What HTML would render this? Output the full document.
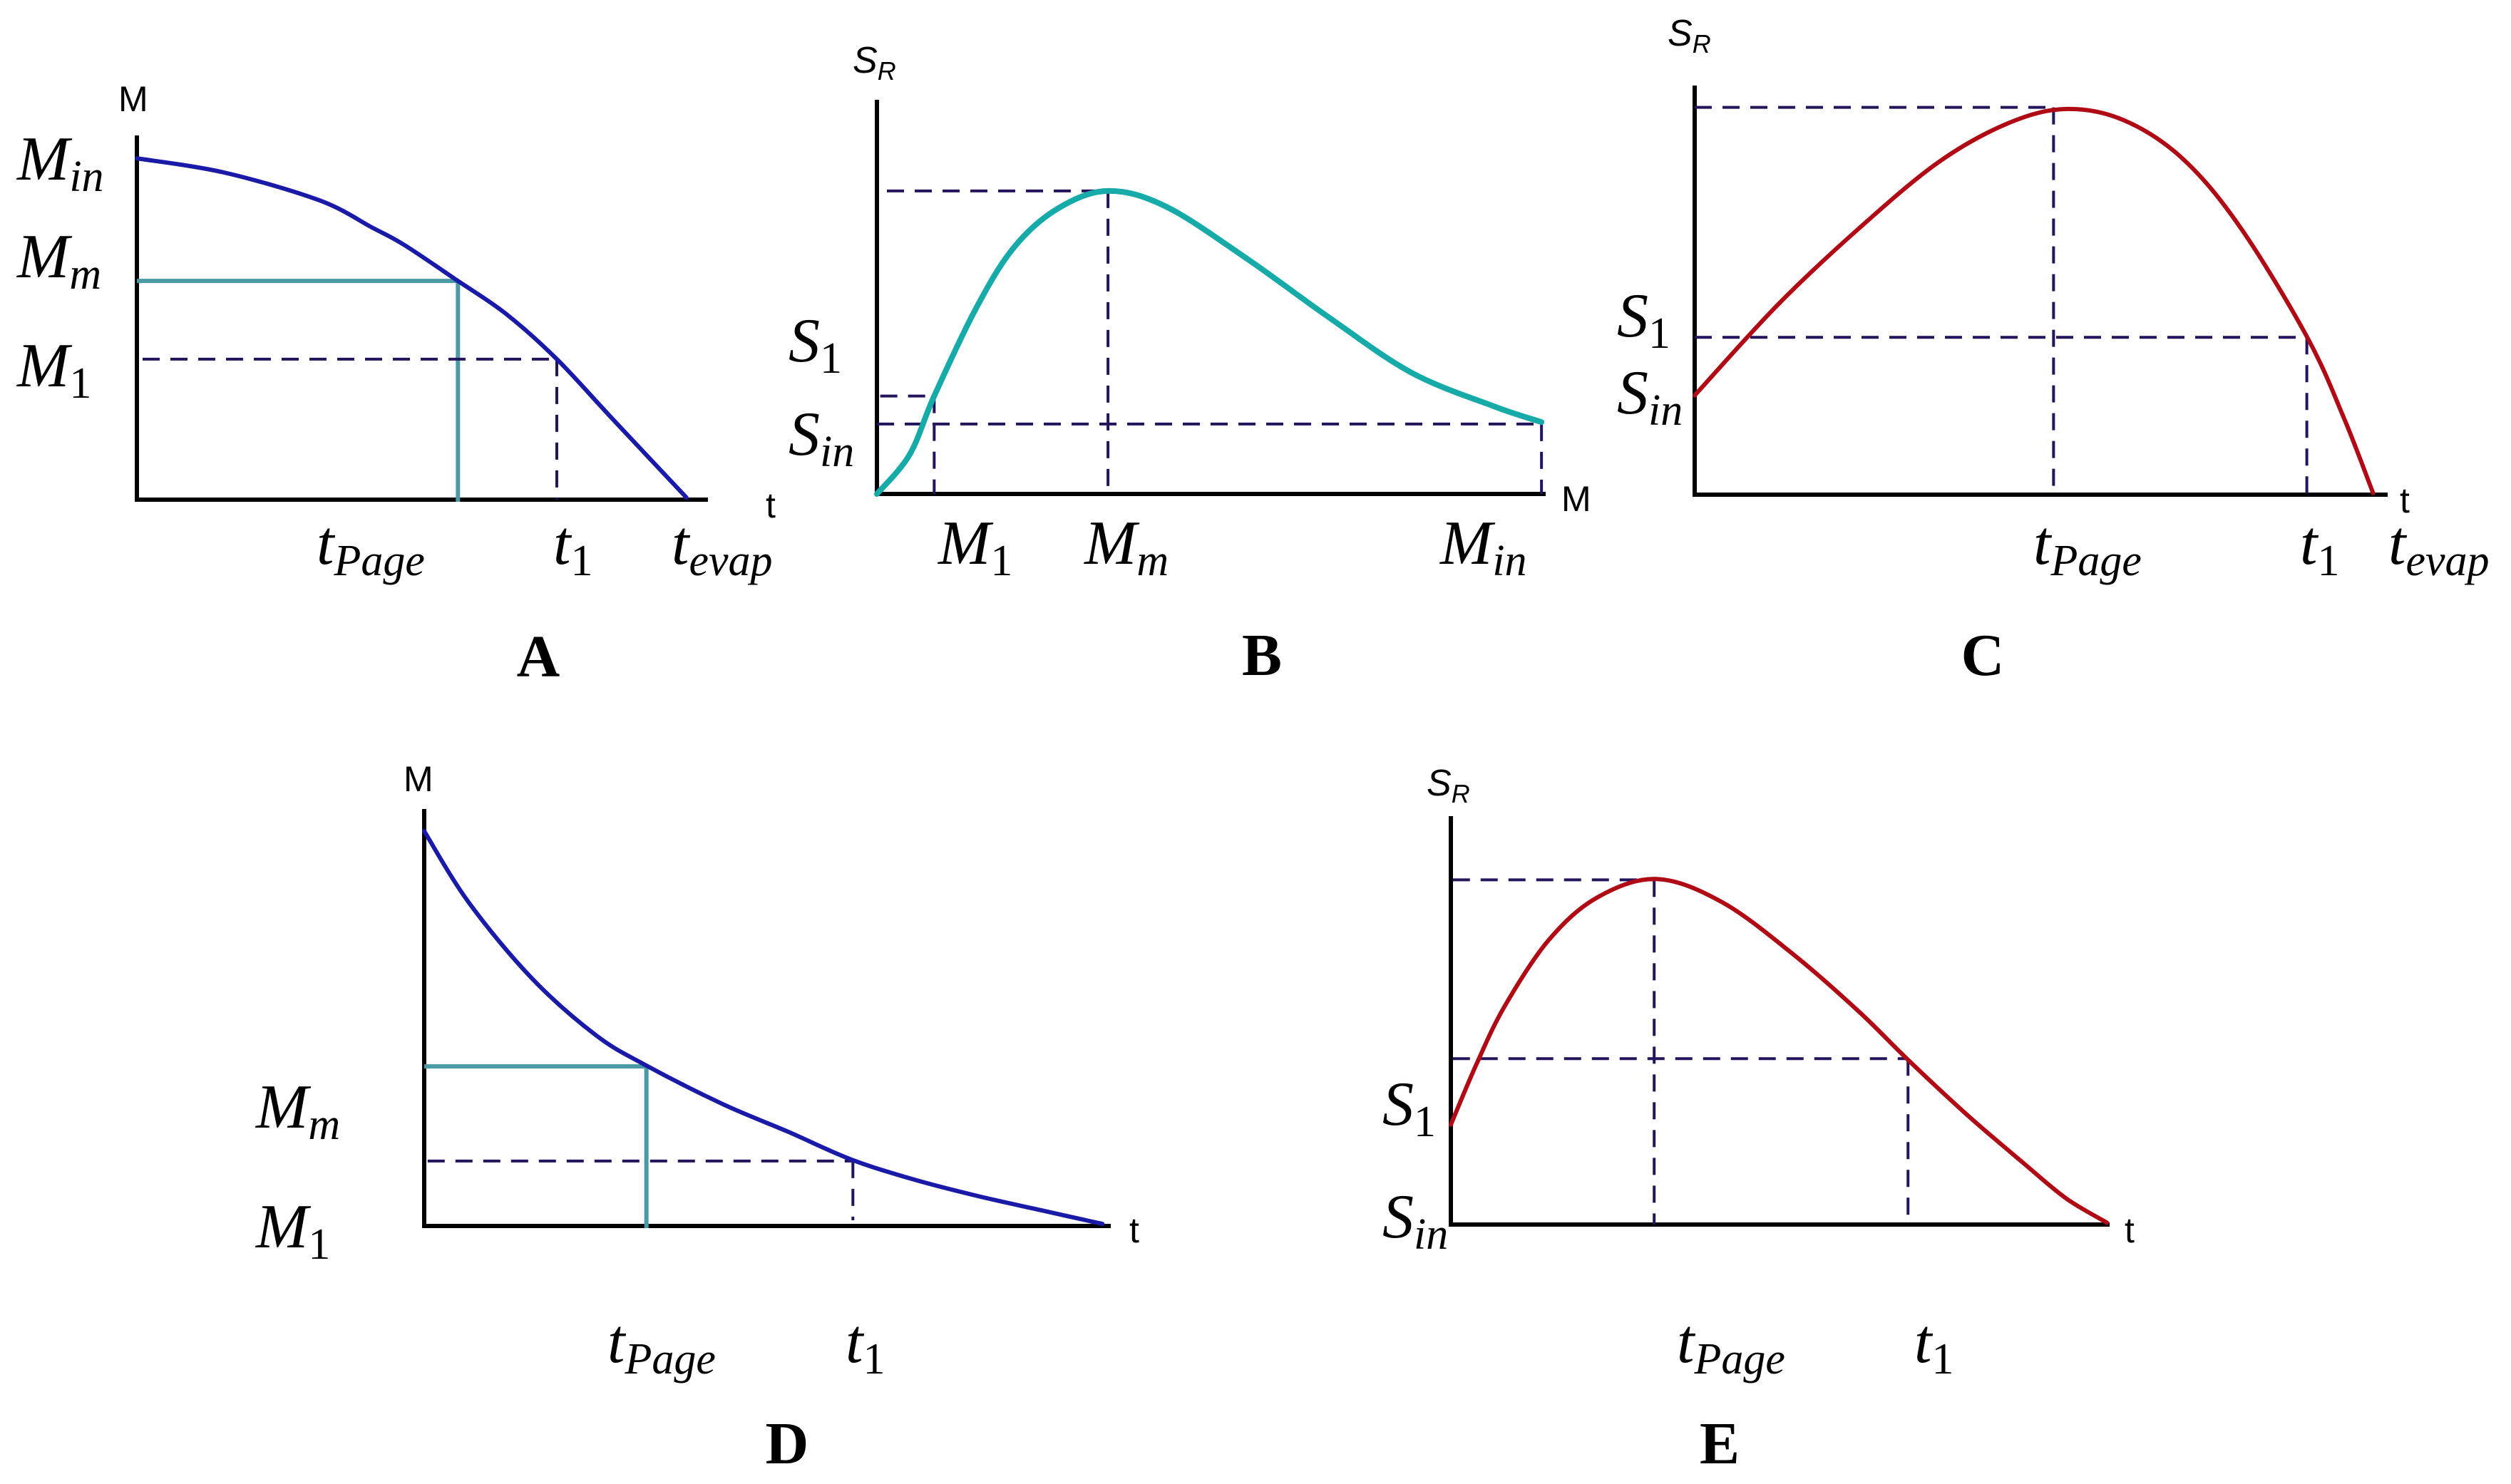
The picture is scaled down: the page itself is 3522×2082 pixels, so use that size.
<!DOCTYPE html>
<html><head><meta charset="utf-8"><style>
html,body{margin:0;padding:0;background:#fff;}
svg{display:block;}
.it{font-family:"Liberation Serif",serif;font-style:italic;}
.sans{font-family:"Liberation Sans",sans-serif;}
.bold{font-family:"Liberation Serif",serif;font-weight:bold;}
</style></head><body>
<svg id="fig" width="3522" height="2082" viewBox="0 0 3522 2082" xmlns="http://www.w3.org/2000/svg">
<rect width="3522" height="2082" fill="#fff"/>
<g id="marks"></g>
<g>
<text class="sans" x="166" y="156" font-size="50">M</text>
<text class="it" x="24" y="252" font-size="88">M<tspan font-size="62" dy="16">in</tspan></text>
<text class="it" x="24" y="389" font-size="88">M<tspan font-size="62" dy="16">m</tspan></text>
<text class="it" x="24" y="542" font-size="88">M<tspan font-size="62" dy="16" font-style="normal">1</tspan></text>
<text class="sans" x="1074" y="726" font-size="50">t</text>
<text class="it" x="444" y="791" font-size="88">t<tspan font-size="62" dy="16">Page</tspan></text>
<text class="it" x="776" y="791" font-size="88">t<tspan font-size="62" dy="16" font-style="normal">1</tspan></text>
<text class="it" x="942" y="791" font-size="88">t<tspan font-size="62" dy="16">evap</tspan></text>
<text class="bold" x="755" y="949" font-size="84" text-anchor="middle">A</text>
</g>
<g>
<text class="sans" x="1196" y="102" font-size="52" font-style="italic">S<tspan font-size="36" dy="10">R</tspan></text>
<text class="it" x="1106" y="507" font-size="88">S<tspan font-size="62" dy="16" font-style="normal">1</tspan></text>
<text class="it" x="1106" y="638" font-size="88">S<tspan font-size="62" dy="16">in</tspan></text>
<text class="sans" x="2190" y="717" font-size="50">M</text>
<text class="it" x="1316" y="791" font-size="88">M<tspan font-size="62" dy="16" font-style="normal">1</tspan></text>
<text class="it" x="1521" y="791" font-size="88">M<tspan font-size="62" dy="16">m</tspan></text>
<text class="it" x="2020" y="791" font-size="88">M<tspan font-size="62" dy="16">in</tspan></text>
<text class="bold" x="1770" y="947" font-size="84" text-anchor="middle">B</text>
</g>
<g>
<text class="sans" x="2339" y="64" font-size="52" font-style="italic">S<tspan font-size="36" dy="10">R</tspan></text>
<text class="it" x="2268" y="472" font-size="88">S<tspan font-size="62" dy="16" font-style="normal">1</tspan></text>
<text class="it" x="2268" y="580" font-size="88">S<tspan font-size="62" dy="16">in</tspan></text>
<text class="sans" x="3366" y="719" font-size="50">t</text>
<text class="it" x="2852" y="791" font-size="88">t<tspan font-size="62" dy="16">Page</tspan></text>
<text class="it" x="3226" y="791" font-size="88">t<tspan font-size="62" dy="16" font-style="normal">1</tspan></text>
<text class="it" x="3350" y="791" font-size="88">t<tspan font-size="62" dy="16">evap</tspan></text>
<text class="bold" x="2781" y="947" font-size="84" text-anchor="middle">C</text>
</g>
<g>
<text class="sans" x="566" y="1110" font-size="50">M</text>
<text class="it" x="359" y="1582" font-size="88">M<tspan font-size="62" dy="16">m</tspan></text>
<text class="it" x="359" y="1750" font-size="88">M<tspan font-size="62" dy="16" font-style="normal">1</tspan></text>
<text class="sans" x="1584" y="1743" font-size="50">t</text>
<text class="it" x="852" y="1911" font-size="88">t<tspan font-size="62" dy="16">Page</tspan></text>
<text class="it" x="1186" y="1911" font-size="88">t<tspan font-size="62" dy="16" font-style="normal">1</tspan></text>
<text class="bold" x="1104" y="2053" font-size="84" text-anchor="middle">D</text>
</g>
<g>
<text class="sans" x="2001" y="1116" font-size="52" font-style="italic">S<tspan font-size="36" dy="10">R</tspan></text>
<text class="it" x="1939" y="1578" font-size="88">S<tspan font-size="62" dy="16" font-style="normal">1</tspan></text>
<text class="it" x="1939" y="1736" font-size="88">S<tspan font-size="62" dy="16">in</tspan></text>
<text class="sans" x="2980" y="1743" font-size="50">t</text>
<text class="it" x="2352" y="1911" font-size="88">t<tspan font-size="62" dy="16">Page</tspan></text>
<text class="it" x="2685" y="1911" font-size="88">t<tspan font-size="62" dy="16" font-style="normal">1</tspan></text>
<text class="bold" x="2412" y="2053" font-size="84" text-anchor="middle">E</text>
</g>
</svg>
<script>
// ---- data (domain 0..10 on both axes) ----
const aT = [0, 1.52, 3.21, 4.14, 4.71, 5.65, 6.49, 7.39, 8.36, 9.67];
const aM = [9.52, 9.13, 8.35, 7.59, 7.10, 6.10, 5.19, 3.92, 2.27, 0.06];
const aRef = {tPage: 5.65, Mm: 6.1, t1: 7.39, M1: 3.92};

const bM = [0, 0.49, 0.86, 1.48, 2.05, 2.71, 3.47, 4.35, 5.57, 6.80, 8.03, 9.26, 9.98];
const bS = [0, 1.01, 2.52, 4.75, 6.33, 7.34, 7.80, 7.39, 6.04, 4.53, 3.12, 2.26, 1.85];
const bRef = {Mm: 3.47, Smax: 7.8, M1: 0.86, S1: 2.52, Min: 9.98, Sin: 1.8};

const cT = [0, 1.20, 2.38, 3.54, 4.56, 5.39, 6.22, 7.07, 7.90, 8.87, 9.41, 9.83];
const cS = [2.46, 4.70, 6.60, 8.25, 9.22, 9.56, 9.28, 8.33, 6.64, 3.92, 1.89, 0.04];
const cRef = {tPage: 5.2, Smax: 9.6, t1: 8.87, S1: 3.9};

const dT = [0, 0.65, 1.57, 2.51, 3.25, 4.37, 5.31, 6.24, 7.16, 8.09, 9.03, 9.92];
const dM = [9.60, 7.87, 6.03, 4.64, 3.90, 2.96, 2.30, 1.62, 1.13, 0.73, 0.38, 0.05];
const dRef = {tPage: 3.25, Mm: 3.88, t1: 6.27, M1: 1.58};

const eT = [0, 0.39, 0.82, 1.49, 2.23, 3.14, 4.14, 5.22, 6.22, 6.97, 7.88, 8.72, 9.38, 10];
const eS = [2.48, 3.98, 5.42, 7.06, 8.12, 8.58, 8.00, 6.71, 5.29, 4.09, 2.71, 1.54, 0.65, 0.05];
const eRef = {tPage: 3.1, Smax: 8.56, t1: 6.97, S1: 4.12};

const NS = 'http://www.w3.org/2000/svg';
const root = document.getElementById('marks');
function mk(tag, attrs, parent){
  const e = document.createElementNS(NS, tag);
  for (const k in attrs) e.setAttribute(k, attrs[k]);
  (parent || root).appendChild(e);
  return e;
}
function axes(x0, x1, y0, y1){
  return {x: v => x0 + (x1 - x0) * v / 10, y: v => y0 - (y0 - y1) * v / 10, x0, x1, y0, y1};
}
function smooth(px, py){
  let d = 'M' + px[0] + ',' + py[0];
  for (let i = 0; i < px.length - 1; i++){
    const i0 = Math.max(0, i - 1), i3 = Math.min(px.length - 1, i + 2);
    const c1x = px[i] + (px[i+1] - px[i0]) / 6, c1y = py[i] + (py[i+1] - py[i0]) / 6;
    const c2x = px[i+1] - (px[i3] - px[i]) / 6, c2y = py[i+1] - (py[i3] - py[i]) / 6;
    d += ' C' + c1x + ',' + c1y + ' ' + c2x + ',' + c2y + ' ' + px[i+1] + ',' + py[i+1];
  }
  return d;
}
const DASH = '#24145c';
function drawAxes(ax, name){
  const g = mk('g', {});
  
  
  const ya = mk('line', {x1: ax.x0, y1: ax.y0, x2: ax.x0, y2: ax.y1 - 8, stroke: '#000', 'stroke-width': 6}, g);
  
  
  const xa = mk('line', {x1: ax.x0 - 3, y1: ax.y0, x2: ax.x1 + 4, y2: ax.y0, stroke: '#000', 'stroke-width': 6}, g);
  
  
}
function curve(ax, xs, ys, color, w, name){
  const p = mk('path', {d: smooth(xs.map(ax.x), ys.map(ax.y)), fill: 'none', stroke: color, 'stroke-width': w, 'stroke-linecap': 'round'});
  
  
}
function seg(x1, y1, x2, y2, color, w, dashed, name){
  const a = {x1, y1, x2, y2, stroke: color, 'stroke-width': w};
  if (dashed) a['stroke-dasharray'] = '24 15';
  const l = mk('line', a);
  
  
}
const TEAL = '#4a9aa6';

const A = axes(192, 989, 701, 198);
drawAxes(A, 'a');
seg(A.x(0), A.y(aRef.Mm), A.x(aRef.tPage), A.y(aRef.Mm), TEAL, 6, false, 'a-mm-guide-h');
seg(A.x(aRef.tPage), A.y(aRef.Mm), A.x(aRef.tPage), A.y0 + 3, TEAL, 6, false, 'a-tpage-guide-v');
seg(A.x(0.1), A.y(aRef.M1), A.x(aRef.t1), A.y(aRef.M1), DASH, 4, true, 'a-m1-guide-h');
seg(A.x(aRef.t1), A.y(aRef.M1), A.x(aRef.t1), A.y0, DASH, 4, true, 'a-t1-guide-v');
curve(A, aT, aM, '#1a1aa8', 6, 'a-mass-curve');

const B = axes(1230, 2164, 693, 148);
drawAxes(B, 'b');
seg(B.x(0.15), B.y(bRef.Smax), B.x(bRef.Mm), B.y(bRef.Smax), DASH, 4, true, 'b-smax-guide-h');
seg(B.x(bRef.Mm), B.y(bRef.Smax), B.x(bRef.Mm), B.y0, DASH, 4, true, 'b-mm-guide-v');
seg(B.x(0.05), B.y(bRef.S1), B.x(bRef.M1), B.y(bRef.S1), DASH, 4, true, 'b-s1-guide-h');
seg(B.x(bRef.M1), B.y(bRef.S1), B.x(bRef.M1), B.y0, DASH, 4, true, 'b-m1-guide-v');
seg(B.x(0), B.y(bRef.Sin), B.x(bRef.Min), B.y(bRef.Sin), DASH, 4, true, 'b-sin-guide-h');
seg(B.x(bRef.Min), B.y(bRef.Sin), B.x(bRef.Min), B.y0, DASH, 4, true, 'b-min-guide-v');
curve(B, bM, bS, '#16aba8', 8, 'b-entropy-curve');

const C = axes(2377, 3345, 694, 128);
drawAxes(C, 'c');
seg(C.x(0), C.y(cRef.Smax), C.x(cRef.tPage), C.y(cRef.Smax), DASH, 4, true, 'c-smax-guide-h');
seg(C.x(cRef.tPage), C.y(cRef.Smax), C.x(cRef.tPage), C.y0, DASH, 4, true, 'c-tpage-guide-v');
seg(C.x(0), C.y(cRef.S1), C.x(cRef.t1), C.y(cRef.S1), DASH, 4, true, 'c-s1-guide-h');
seg(C.x(cRef.t1), C.y(cRef.S1), C.x(cRef.t1), C.y0, DASH, 4, true, 'c-t1-guide-v');
curve(C, cT, cS, '#b00a14', 6, 'c-entropy-curve');

const D = axes(595, 1554, 1720, 1143);
drawAxes(D, 'd');
seg(D.x(0), D.y(dRef.Mm), D.x(dRef.tPage), D.y(dRef.Mm), TEAL, 6, false, 'd-mm-guide-h');
seg(D.x(dRef.tPage), D.y(dRef.Mm), D.x(dRef.tPage), D.y0 + 3, TEAL, 6, false, 'd-tpage-guide-v');
seg(D.x(0.05), D.y(dRef.M1), D.x(dRef.t1), D.y(dRef.M1), DASH, 4, true, 'd-m1-guide-h');
seg(D.x(dRef.t1), D.y(dRef.M1), D.x(dRef.t1), D.y0 - 8, DASH, 4, true, 'd-t1-guide-v');
curve(D, dT, dM, '#1a1aa8', 6, 'd-mass-curve');

const E = axes(2035, 2955, 1718, 1153);
drawAxes(E, 'e');
seg(E.x(0.03), E.y(eRef.Smax), E.x(eRef.tPage), E.y(eRef.Smax), DASH, 4, true, 'e-smax-guide-h');
seg(E.x(eRef.tPage), E.y(eRef.Smax), E.x(eRef.tPage), E.y0, DASH, 4, true, 'e-tpage-guide-v');
seg(E.x(0.03), E.y(eRef.S1), E.x(eRef.t1), E.y(eRef.S1), DASH, 4, true, 'e-s1-guide-h');
seg(E.x(eRef.t1), E.y(eRef.S1), E.x(eRef.t1), E.y0 - 12, DASH, 4, true, 'e-t1-guide-v');
curve(E, eT, eS, '#b00a14', 6, 'e-entropy-curve');
</script>
</body></html>
